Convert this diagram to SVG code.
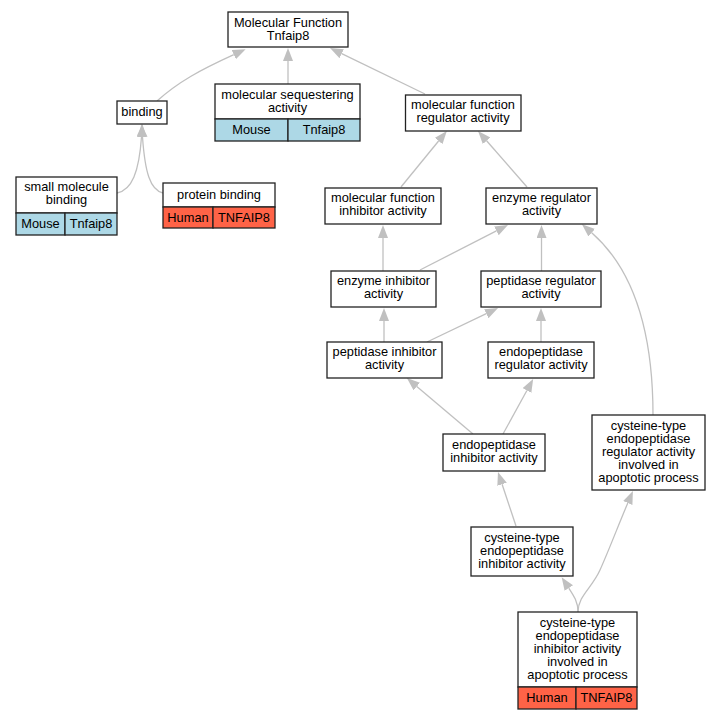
<svg xmlns="http://www.w3.org/2000/svg" width="720" height="720" viewBox="0 0 720 720">
<style>
.n rect{fill:#fff;stroke:#222;stroke-width:1.3}
.n rect.m{fill:#add8e6}
.n rect.h{fill:#ff6347}
text{font-family:"Liberation Sans",Arial,sans-serif;font-size:12.8px;fill:#000;text-anchor:middle}
.e path{fill:none;stroke:#c0c0c0;stroke-width:1.3}
</style>
<defs>
<marker id="a" markerUnits="userSpaceOnUse" markerWidth="14" markerHeight="11" refX="0" refY="5" orient="auto">
<path d="M0,0 L13,5 L0,10 z" fill="#c0c0c0"/>
</marker>
</defs>
<rect width="720" height="720" fill="#fff"/>
<g class="e" id="edges">
<path d="M157,101 C178,82 200,70 233.8,54.6" marker-end="url(#a)"/>
<path d="M288,84 L288,61" marker-end="url(#a)"/>
<path d="M425,94 L341.7,53.7" marker-end="url(#a)"/>
<path d="M117,193 C132,190 139,172 141.5,137" marker-end="url(#a)"/>
<path d="M163,193 C150,190 145,172 142.5,137" marker-end="url(#a)"/>
<path d="M401,187 L438.6,141" marker-end="url(#a)"/>
<path d="M527,187 L486.6,140.8" marker-end="url(#a)"/>
<path d="M383,271 L383,238" marker-end="url(#a)"/>
<path d="M420,270 L496.4,230.9" marker-end="url(#a)"/>
<path d="M541.5,271 L541.5,238" marker-end="url(#a)"/>
<path d="M653,415 C653,330 632,268 591.7,232.7" marker-end="url(#a)"/>
<path d="M384,342 L384,321" marker-end="url(#a)"/>
<path d="M427,342 L486.3,313.7" marker-end="url(#a)"/>
<path d="M541,342 L541,321" marker-end="url(#a)"/>
<path d="M473,434 L416.8,386.5" marker-end="url(#a)"/>
<path d="M503,434 L526.9,390.5" marker-end="url(#a)"/>
<path d="M516,526 L502.1,484.3" marker-end="url(#a)"/>
<path d="M578,612 C578,602 574,596 568.8,588.1" marker-end="url(#a)"/>
<path d="M578,612 C578,596 592,588 600,570 C609,550 618,526 627.8,503" marker-end="url(#a)"/>
</g>
<g class="n" id="n_mf">
<rect x="228" y="12" width="120" height="35"/>
<text x="288" y="26.5">Molecular Function</text>
<text x="288" y="39.5">Tnfaip8</text>
</g>
<g class="n" id="n_binding">
<rect x="117" y="101" width="50" height="23"/>
<text x="142" y="116">binding</text>
</g>
<g class="n" id="n_seq">
<rect x="215" y="84" width="145" height="35"/>
<text x="287.5" y="98.5">molecular sequestering</text>
<text x="287.5" y="111.5">activity</text>
<rect class="m" x="215" y="119" width="73" height="22"/>
<rect class="m" x="288" y="119" width="72" height="22"/>
<text x="251.5" y="134">Mouse</text>
<text x="324" y="134">Tnfaip8</text>
</g>
<g class="n" id="n_mfreg">
<rect x="405.5" y="95" width="115.5" height="36"/>
<text x="463" y="109">molecular function</text>
<text x="463" y="122">regulator activity</text>
</g>
<g class="n" id="n_smb">
<rect x="16" y="177" width="101" height="36"/>
<text x="66.5" y="191">small molecule</text>
<text x="66.5" y="204">binding</text>
<rect class="m" x="16" y="213" width="49" height="22"/>
<rect class="m" x="65" y="213" width="52" height="22"/>
<text x="40.5" y="228">Mouse</text>
<text x="91" y="228">Tnfaip8</text>
</g>
<g class="n" id="n_prot">
<rect x="163" y="183" width="112" height="24"/>
<text x="219" y="198.5">protein binding</text>
<rect class="h" x="163" y="207" width="50" height="21"/>
<rect class="h" x="213" y="207" width="62" height="21"/>
<text x="188" y="221.5">Human</text>
<text x="244" y="221.5">TNFAIP8</text>
</g>
<g class="n" id="n_mfinh">
<rect x="325" y="188" width="116" height="36"/>
<text x="383" y="202">molecular function</text>
<text x="383" y="215">inhibitor activity</text>
</g>
<g class="n" id="n_enzreg">
<rect x="486" y="188" width="111" height="36"/>
<text x="541.5" y="202">enzyme regulator</text>
<text x="541.5" y="215">activity</text>
</g>
<g class="n" id="n_enzinh">
<rect x="331" y="271" width="105" height="36"/>
<text x="383.5" y="285">enzyme inhibitor</text>
<text x="383.5" y="298">activity</text>
</g>
<g class="n" id="n_pepreg">
<rect x="481" y="271" width="120" height="36"/>
<text x="541" y="285">peptidase regulator</text>
<text x="541" y="298">activity</text>
</g>
<g class="n" id="n_pepinh">
<rect x="327" y="342" width="115" height="36"/>
<text x="384.5" y="356">peptidase inhibitor</text>
<text x="384.5" y="369">activity</text>
</g>
<g class="n" id="n_endreg">
<rect x="488" y="342" width="106" height="36"/>
<text x="541" y="356">endopeptidase</text>
<text x="541" y="369">regulator activity</text>
</g>
<g class="n" id="n_endinh">
<rect x="443" y="434" width="102" height="37"/>
<text x="494" y="448.5">endopeptidase</text>
<text x="494" y="461.5">inhibitor activity</text>
</g>
<g class="n" id="n_cysreg">
<rect x="592" y="415" width="113" height="75"/>
<text x="648.5" y="430">cysteine-type</text>
<text x="648.5" y="443">endopeptidase</text>
<text x="648.5" y="456">regulator activity</text>
<text x="648.5" y="469">involved in</text>
<text x="648.5" y="482">apoptotic process</text>
</g>
<g class="n" id="n_cysinh">
<rect x="471" y="527" width="102" height="49"/>
<text x="522" y="542">cysteine-type</text>
<text x="522" y="555">endopeptidase</text>
<text x="522" y="568">inhibitor activity</text>
</g>
<g class="n" id="n_cysinhapop">
<rect x="518" y="612" width="119" height="75"/>
<text x="577.5" y="627">cysteine-type</text>
<text x="577.5" y="640">endopeptidase</text>
<text x="577.5" y="653">inhibitor activity</text>
<text x="577.5" y="666">involved in</text>
<text x="577.5" y="679">apoptotic process</text>
<rect class="h" x="518" y="687" width="58" height="22"/>
<rect class="h" x="576" y="687" width="61" height="22"/>
<text x="547" y="701.5">Human</text>
<text x="606.5" y="701.5">TNFAIP8</text>
</g>
</svg>
